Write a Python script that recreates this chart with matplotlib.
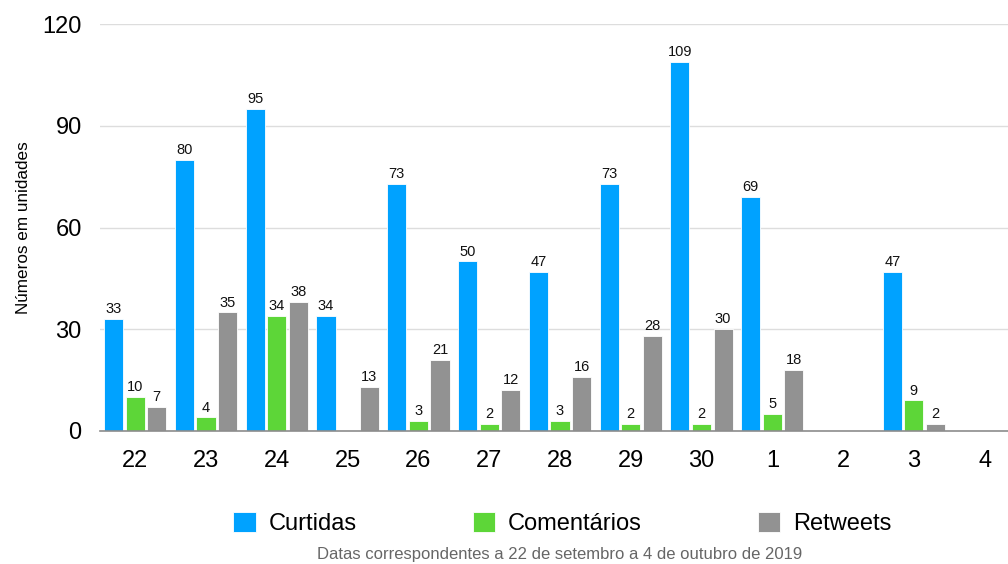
import numpy as np
import matplotlib.pyplot as plt

dias = ['22', '23', '24', '25', '26', '27', '28', '29', '30', '1', '2', '3', '4']
curtidas = [33, 80, 95, 34, 73, 50, 47, 73, 109, 69, 0, 47, 0]
comentarios = [10, 4, 34, 0, 3, 2, 3, 2, 2, 5, 0, 9, 0]
retweets = [7, 35, 38, 13, 21, 12, 16, 28, 30, 18, 0, 2, 0]

series = [
    ('Curtidas', curtidas, '#00a2ff'),
    ('Comentários', comentarios, '#5dd638'),
    ('Retweets', retweets, '#929292'),
]

plt.rcParams['font.family'] = ['Liberation Sans', 'DejaVu Sans']

fig = plt.figure(figsize=(10.08, 5.64), dpi=100)
ax = fig.add_axes([0.099, 0.236, 0.913, 0.721])

x = np.arange(len(dias))
w = 0.27
step = 0.305
for i, (nome, vals, cor) in enumerate(series):
    pos = x + (i - 1) * step
    ax.bar(pos, vals, width=w, color=cor, edgecolor='white', linewidth=0.6,
           label=nome, zorder=3)
    for xp, v in zip(pos, vals):
        if v > 0:
            ax.annotate(str(v), (xp, v), xytext=(0, 2), textcoords='offset points',
                        ha='center', va='bottom', fontsize=10.5, color='#111111')

ax.set_xlim(-0.5, len(dias) - 0.5)
ax.set_ylim(0, 120)
ax.set_yticks([0, 30, 60, 90, 120])
ax.set_xticks(x)
ax.set_xticklabels(dias)
ax.tick_params(axis='y', length=0, pad=13, labelsize=17)
ax.tick_params(axis='x', length=0, pad=14, labelsize=17)
ax.yaxis.grid(True, color='#dddddd', linewidth=1.0, zorder=0)
for s in ['top', 'right', 'left']:
    ax.spines[s].set_visible(False)
ax.spines['bottom'].set_color('#8c8c8c')
ax.spines['bottom'].set_linewidth(1.2)
ax.spines['bottom'].set_zorder(4)

ax.set_ylabel('Números em unidades', fontsize=12.3, labelpad=8)

fig.legend(loc='center', bbox_to_anchor=(0.558, 0.072), ncol=3, frameon=False,
           fontsize=17, handlelength=0.95, handleheight=0.95, handletextpad=0.55,
           columnspacing=4.9)
fig.text(0.555, 0.016, 'Datas correspondentes a 22 de setembro a 4 de outubro de 2019',
         ha='center', va='center', fontsize=12, color='#666666')

fig.savefig('out.png', dpi=100)
